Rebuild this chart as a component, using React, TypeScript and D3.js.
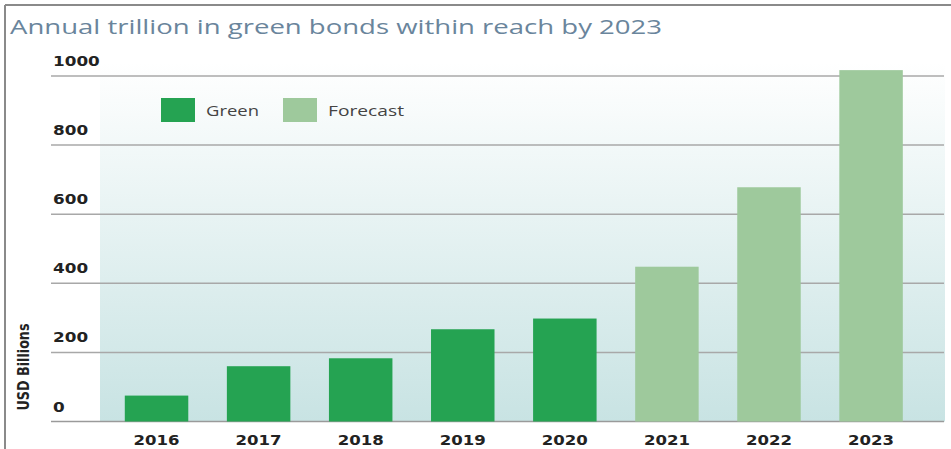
import React from "react";
import * as d3 from "d3";

const years = ["2016", "2017", "2018", "2019", "2020", "2021", "2022", "2023"];
const values = [75, 160, 183, 267, 298, 448, 678, 1017];
const kinds = ["Green", "Green", "Green", "Green", "Green", "Forecast", "Forecast", "Forecast"];
const yTicks = [0, 200, 400, 600, 800, 1000];
const legendItems = ["Green", "Forecast"];

const W = 951;
const H = 449;
const colors: Record<string, string> = { Green: "#25a352", Forecast: "#9ec99c" };

export default function App() {
  const x = d3
    .scaleBand<string>()
    .domain(years)
    .range([105.5, 922.1])
    .paddingInner(0.378)
    .paddingOuter(0.189);
  const y = d3.scaleLinear().domain([0, 1000]).range([421.5, 76]);

  const legendX = [161, 283];
  const legendTextX = [206, 328];
  const legendTextLen = [53, 76];

  return (
    <svg
      width={W}
      height={H}
      style={{ position: "absolute", left: 0, top: 0, background: "#fff" }}
    >
      <defs>
        <linearGradient id="bg" x1="0" y1="0" x2="0" y2="1">
          <stop offset="0%" stopColor="#ffffff" />
          <stop offset="100%" stopColor="#c8e3e3" />
        </linearGradient>
      </defs>
      <line x1={5} x2={W} y1={5} y2={5} stroke="#8a8a8a" strokeWidth={2} />
      <line x1={5} x2={5} y1={5} y2={H} stroke="#8a8a8a" strokeWidth={2} />

      <text
        x={10}
        y={34}
        fontFamily="'Open Sans', 'Noto Sans', sans-serif"
        fontSize={20}
        fill="#6a859c"
        textLength={652}
        lengthAdjust="spacingAndGlyphs"
      >
        Annual trillion in green bonds within reach by 2023
      </text>

      <rect x={100} y={62} width={845} height={y(0) - 62} fill="url(#bg)" />

      {yTicks.map((t) => (
        <line
          key={"g" + t}
          x1={51}
          x2={944}
          y1={y(t)}
          y2={y(t)}
          stroke={t === 0 ? "#9a9a9a" : "#a8a8a8"}
          strokeWidth={1.5}
        />
      ))}
      {yTicks.map((t) => (
        <text
          key={"t" + t}
          x={53}
          y={y(t) - 10}
          fontFamily="'DejaVu Sans', sans-serif"
          fontWeight="bold"
          fontSize={14.5}
          fill="#222"
          textLength={String(t).length * 11.7}
          lengthAdjust="spacingAndGlyphs"
        >
          {t}
        </text>
      ))}

      {years.map((yr, i) => (
        <rect
          key={yr}
          x={x(yr)}
          y={y(values[i])}
          width={x.bandwidth()}
          height={y(0) - y(values[i])}
          fill={colors[kinds[i]]}
        />
      ))}

      {years.map((yr) => (
        <text
          key={"x" + yr}
          x={(x(yr) as number) + x.bandwidth() / 2}
          y={445}
          textAnchor="middle"
          fontFamily="'DejaVu Sans', sans-serif"
          fontWeight="bold"
          fontSize={14.5}
          fill="#222"
          textLength={46}
          lengthAdjust="spacingAndGlyphs"
        >
          {yr}
        </text>
      ))}

      <text
        transform="translate(29,367) rotate(-90)"
        textAnchor="middle"
        fontFamily="'DejaVu Sans', sans-serif"
        fontWeight="bold"
        fontSize={16}
        fill="#222"
        textLength={87}
        lengthAdjust="spacingAndGlyphs"
      >
        USD Billions
      </text>

      {legendItems.map((k, i) => (
        <g key={k}>
          <rect x={legendX[i]} y={98} width={34} height={24} fill={colors[k]} />
          <text
            x={legendTextX[i]}
            y={116}
            fontFamily="'Open Sans', 'Noto Sans', sans-serif"
            fontSize={15}
            fill="#444"
            textLength={legendTextLen[i]}
            lengthAdjust="spacingAndGlyphs"
          >
            {k}
          </text>
        </g>
      ))}
    </svg>
  );
}
